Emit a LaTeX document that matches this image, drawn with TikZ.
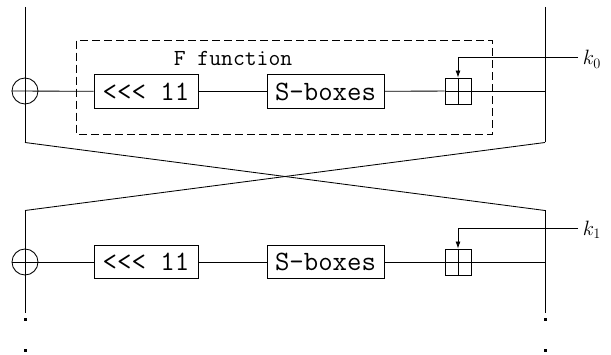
\documentclass[tikz,border=0pt]{standalone}
\usetikzlibrary{arrows.meta}
\begin{document}
\begin{tikzpicture}[x=1pt,y=-1pt,line width=0.85pt,
  xorc/.style={draw,circle,minimum size=26pt,inner sep=0pt},
  opbox/.style={draw,rectangle,inner sep=0pt,minimum height=33.6pt,font=\ttfamily\fontsize{28}{28}\selectfont},
  addbox/.style={draw,rectangle,minimum size=26pt,inner sep=0pt},
  keylbl/.style={anchor=base west,inner sep=0pt,font=\fontsize{20}{20}\selectfont},
  dotsq/.style={fill,rectangle,minimum size=3pt,inner sep=0pt},
  keyarrow/.style={-{Latex[length=7pt,width=5pt]}},
  fbox/.style={draw,dash pattern=on 8pt off 4pt}]
\useasboundingbox (0,0) rectangle (611,355);
% coordinates
\coordinate (ltop) at (25,7);
\coordinate (rtop) at (545,7);
\coordinate (lc1) at (25,142.5);
\coordinate (rc1) at (545,142.5);
\coordinate (lc2) at (25,210.5);
\coordinate (rc2) at (545,210.5);
\coordinate (lend) at (25,313);
\coordinate (rend) at (545,313);
\coordinate (r1) at (545,91);
\coordinate (r2) at (545,262);
\coordinate (k0e) at (578,57.7);
\coordinate (k1e) at (578,228);
% F function box
\draw[fbox] (76.7,40.7) rectangle (492.7,134.3);
\node[anchor=base,inner sep=0pt,font=\ttfamily\fontsize{23}{23}\selectfont] (ftitle) at (233,66) {F function};
% round 1
\node[xorc] (x1) at (25,91) {};
\node[opbox,minimum width=104pt] (rot1) at (146,91.5) {<<< 11};
\node[opbox,minimum width=117pt] (sb1) at (325.5,91.5) {S-boxes};
\node[addbox] (a1) at (458,91) {};
\draw (ltop) -- (lc1);
\draw (rtop) -- (rc1);
\draw (x1.west) -- (rot1);
\draw (rot1) -- (sb1);
\draw (sb1) -- (a1);
\draw (a1.west) -- (r1);
\draw (a1.north) -- (a1.south);
\draw[keyarrow] (k0e) -| (a1.north);
\node[keylbl] (k0) at (582.5,65) {$k_0$};
% cross
\draw (lc1) -- (rc2);
\draw (rc1) -- (lc2);
% round 2
\node[xorc] (x2) at (25,262) {};
\node[opbox,minimum width=104pt] (rot2) at (146,262) {<<< 11};
\node[opbox,minimum width=117pt] (sb2) at (325.5,262) {S-boxes};
\node[addbox] (a2) at (458,262) {};
\draw (lc2) -- (lend);
\draw (rc2) -- (rend);
\draw (x2.west) -- (rot2);
\draw (rot2) -- (sb2);
\draw (sb2) -- (a2);
\draw (a2.west) -- (r2);
\draw (a2.north) -- (a2.south);
\draw[keyarrow] (k1e) -| (a2.north);
\node[keylbl] (k1) at (582.5,235.3) {$k_1$};
% dots
\node[dotsq] (dl1) at (25,320) {};
\node[dotsq] (dl2) at (25,351) {};
\node[dotsq] (dr1) at (545,320) {};
\node[dotsq] (dr2) at (545,351) {};
\end{tikzpicture}
\end{document}
